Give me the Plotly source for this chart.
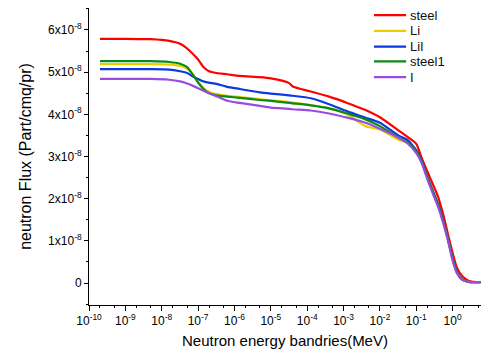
import plotly.graph_objects as go

energy_mev = [2e-10, 1e-9, 5e-9, 1.6e-8, 3.2e-8, 5e-8, 7e-8, 1e-7, 1.4e-7, 2e-7,
              3.2e-7, 6.3e-7, 1.4e-6, 5e-6, 1e-5, 3.2e-5, 4e-5, 1.26e-4, 4e-4,
              1.26e-3, 4e-3, 1e-2, 3.2e-2, 5.6e-2, 0.1, 0.14, 0.2, 0.28, 0.4,
              0.56, 0.76, 1.0, 1.32, 1.86, 2.8, 5.9]

steel = [5.79, 5.79, 5.78, 5.74, 5.67, 5.56, 5.44, 5.30, 5.12, 5.02,
         4.98, 4.95, 4.91, 4.88, 4.85, 4.74, 4.66, 4.54, 4.42,
         4.27, 4.10, 3.93, 3.62, 3.47, 3.30, 2.97, 2.65, 2.36, 2.04,
         1.60, 1.12, 0.71, 0.36, 0.16, 0.05, 0.02]

li = [5.19, 5.19, 5.19, 5.18, 5.15, 5.08, 4.96, 4.78, 4.63, 4.53,
      4.48, 4.44, 4.41, 4.36, 4.33, 4.29, 4.28, 4.22, 4.14,
      4.00, 3.72, 3.64, 3.40, 3.33, 3.12, 2.88, 2.52, 2.18, 1.85,
      1.44, 1.01, 0.57, 0.25, 0.08, 0.03, 0.02]

lil = [5.07, 5.07, 5.07, 5.06, 5.02, 4.98, 4.90, 4.84, 4.78, 4.75,
       4.72, 4.65, 4.60, 4.52, 4.49, 4.45, 4.44, 4.38, 4.24,
       4.07, 3.92, 3.80, 3.50, 3.40, 3.15, 2.90, 2.53, 2.20, 1.87,
       1.46, 1.02, 0.58, 0.26, 0.08, 0.03, 0.02]

steel1 = [5.26, 5.26, 5.26, 5.24, 5.20, 5.12, 4.95, 4.75, 4.60, 4.50,
          4.45, 4.42, 4.39, 4.34, 4.32, 4.27, 4.26, 4.21, 4.14,
          4.02, 3.88, 3.72, 3.45, 3.35, 3.12, 2.88, 2.52, 2.18, 1.85,
          1.44, 1.01, 0.57, 0.25, 0.08, 0.03, 0.02]

iodine = [4.84, 4.84, 4.84, 4.82, 4.78, 4.73, 4.68, 4.62, 4.56, 4.50,
          4.43, 4.32, 4.27, 4.20, 4.16, 4.13, 4.12, 4.09, 4.02,
          3.92, 3.80, 3.66, 3.45, 3.32, 3.08, 2.85, 2.47, 2.14, 1.80,
          1.40, 0.97, 0.53, 0.23, 0.07, 0.03, 0.02]

series_names = ["steel", "Li", "LiI", "steel1", "I"]
series_vals = [steel, li, lil, steel1, iodine]
series_colors = ["#ff0000", "#e8d000", "#0a3ae0", "#0a8a14", "#9a4ce0"]
scale = 1e-8

y_tick_vals = [0, 1, 2, 3, 4, 5, 6]
y_tick_text = ["0"] + [f"{v}x10<sup>-8</sup>" for v in y_tick_vals[1:]]
x_tick_exps = [-10, -9, -8, -7, -6, -5, -4, -3, -2, -1, 0]

FONT = "Liberation Sans, Arial, sans-serif"

fig = go.Figure()
for name, vals, col in zip(series_names, series_vals, series_colors):
    fig.add_trace(go.Scatter(
        x=energy_mev, y=[v * scale for v in vals], mode="lines", name=name,
        line=dict(color=col, width=2.2, shape="spline", smoothing=0.6),
        showlegend=False))

# custom compact legend (paper coordinates)
leg_y = [0.976, 0.923, 0.870, 0.820, 0.767]
for name, col, yy in zip(series_names, series_colors, leg_y):
    fig.add_shape(type="line", xref="paper", yref="paper",
                  x0=0.727, x1=0.809, y0=yy, y1=yy,
                  line=dict(color=col, width=2.2))
    fig.add_annotation(xref="paper", yref="paper", x=0.813, y=yy,
                       text=name, showarrow=False, xanchor="left",
                       yanchor="middle",
                       font=dict(family=FONT, size=13, color="#111"))

fig.update_layout(
    width=481, height=353,
    margin=dict(l=89, r=0, t=8, b=48),
    paper_bgcolor="white", plot_bgcolor="white",
    font=dict(family=FONT, size=12, color="black"),
)
fig.update_xaxes(
    type="log", range=[-10, 0.78],
    tickvals=[10.0 ** e for e in x_tick_exps],
    ticktext=[f"10<sup>{e}</sup>" for e in x_tick_exps],
    ticks="outside", ticklen=5, tickwidth=1, tickcolor="black",
    minor=dict(ticks="outside", ticklen=2, tickcolor="black", showgrid=False),
    showline=True, linecolor="black", linewidth=1,
    showgrid=False, zeroline=False,
    title=dict(text="Neutron energy bandries(MeV)",
               font=dict(family=FONT, size=15, color="black"), standoff=8),
    tickfont=dict(family=FONT, size=12, color="black"),
)
fig.update_yaxes(
    range=[-0.52e-8, 6.52e-8],
    tickvals=[v * scale for v in y_tick_vals], ticktext=y_tick_text,
    ticks="outside", ticklen=4, tickwidth=1, tickcolor="black",
    minor=dict(ticks="outside", ticklen=2, tickcolor="black",
               dtick=0.5e-8, showgrid=False),
    showline=True, linecolor="black", linewidth=1,
    showgrid=False, zeroline=False,
    title=dict(text="neutron Flux (Part/cmq/pr)",
               font=dict(family=FONT, size=16, color="black"), standoff=12),
    tickfont=dict(family=FONT, size=12, color="black"),
)

fig.write_html("out.html")
